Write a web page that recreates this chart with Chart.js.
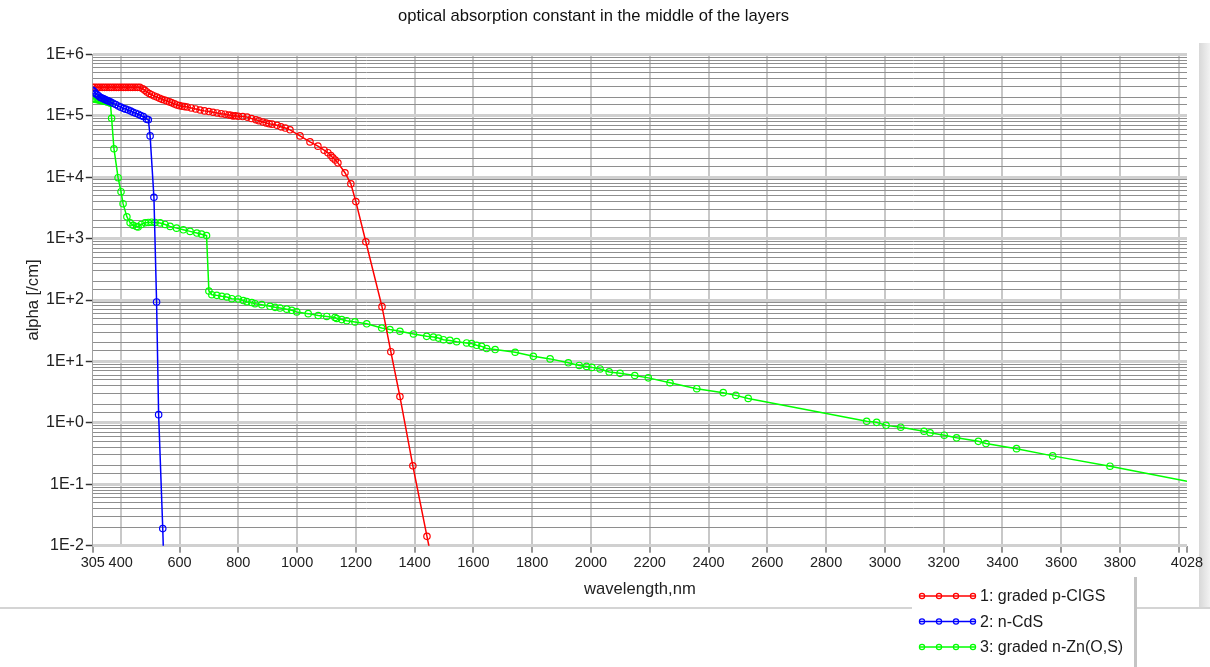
<!DOCTYPE html>
<html>
<head>
<meta charset="utf-8">
<script src="https://cdn.jsdelivr.net/npm/chart.js@4.4.0/dist/chart.umd.min.js"></script>
<style>
  html, body { margin: 0; padding: 0; background: #fff; }
  #wrap { position: relative; width: 1210px; height: 667px; }
</style>
</head>
<body>
<div id="wrap"><canvas id="chart"></canvas></div>
<script>
const chartTitle = "optical absorption constant in the middle of the layers";
const xTitle = "wavelength,nm";
const yTitle = "alpha [/cm]";
const seriesLabels = ["1: graded p-CIGS", "2: n-CdS", "3: graded n-Zn(O,S)"];
const xTicks = [305, 400, 600, 800, 1000, 1200, 1400, 1600, 1800, 2000, 2200, 2400,
  2600, 2800, 3000, 3200, 3400, 3600, 3800, 4000, 4028];

// 1: graded p-CIGS
const cigsWl = [305, 313, 321, 329, 337, 345, 353, 361, 369, 377, 385, 393, 401, 409, 417,
  425, 433, 441, 449, 457, 465, 475, 482, 489, 497, 505, 514, 523, 532, 540, 549, 557, 566,
  574, 583, 591, 600, 609, 617, 626, 640, 655, 670, 685, 700, 714, 728, 742, 755, 768, 775,
  782, 790, 800, 815, 830, 845, 860, 870, 884, 895, 905, 915, 932, 945, 960, 976, 1010, 1044,
  1071, 1092, 1105, 1115, 1122, 1130, 1139, 1163, 1183, 1200, 1234, 1289, 1319, 1350, 1394,
  1442, 1449];
const cigsAlpha = [2.9e5, 2.9e5, 2.9e5, 2.9e5, 2.9e5, 2.9e5, 2.9e5, 2.9e5, 2.9e5, 2.9e5,
  2.9e5, 2.9e5, 2.9e5, 2.9e5, 2.9e5, 2.9e5, 2.9e5, 2.9e5, 2.9e5, 2.9e5, 2.9e5, 2.75e5,
  2.6e5, 2.44e5, 2.3e5, 2.2e5, 2.1e5, 2.02e5, 1.93e5, 1.85e5, 1.8e5, 1.74e5, 1.68e5, 1.62e5,
  1.56e5, 1.5e5, 1.46e5, 1.43e5, 1.41e5, 1.39e5, 1.34e5, 1.29e5, 1.24e5, 1.2e5, 1.17e5,
  1.14e5, 1.11e5, 1.08e5, 1.06e5, 1.03e5, 1.02e5, 9.9e4, 1.0e5, 9.8e4, 9.7e4, 9.5e4, 9.0e4,
  8.6e4, 8.3e4, 7.9e4, 7.6e4, 7.4e4, 7.3e4, 7.0e4, 6.6e4, 6.3e4, 5.9e4, 4.7e4, 3.75e4,
  3.2e4, 2.75e4, 2.5e4, 2.25e4, 2.06e4, 1.9e4, 1.71e4, 1.18e4, 7.8e3, 4.0e3, 887, 78, 14.4,
  2.68, 0.2, 0.0142, 0.0097];

// 2: n-CdS
const cdsWl = [305, 310, 315, 320, 325, 330, 335, 340, 345, 350, 355, 360, 366, 374, 383,
  392, 400, 409, 417, 426, 434, 442, 451, 460, 468, 477, 488, 494, 500, 513, 522, 529, 543,
  545];
const cdsAlpha = [2.6e5, 2.45e5, 2.3e5, 2.2e5, 2.1e5, 2.0e5, 1.95e5, 1.9e5, 1.85e5, 1.8e5,
  1.76e5, 1.72e5, 1.67e5, 1.6e5, 1.52e5, 1.44e5, 1.38e5, 1.32e5, 1.28e5, 1.24e5, 1.19e5,
  1.14e5, 1.1e5, 1.06e5, 1.01e5, 9.7e4, 8.8e4, 8.6e4, 4.7e4, 4.7e3, 93, 1.36, 0.019, 0.009];

// 3: graded n-Zn(O,S)
const znosWl = [305, 310, 315, 320, 325, 330, 335, 340, 345, 350, 355, 360, 365, 369, 377,
  391, 401, 408, 421, 432, 442, 454, 459, 470, 483, 494, 505, 517, 534, 551, 568, 590, 613,
  636, 659, 675, 692, 700, 710, 727, 744, 761, 778, 800, 817, 829, 846, 857, 880, 908, 925,
  942, 965, 982, 999, 1038, 1072, 1101, 1129, 1135, 1152, 1169, 1197, 1237, 1288, 1316, 1350,
  1396, 1441, 1464, 1481, 1498, 1520, 1543, 1577, 1594, 1611, 1628, 1645, 1674, 1742, 1804,
  1861, 1923, 1960, 1985, 2003, 2031, 2062, 2099, 2149, 2195, 2269, 2360, 2450, 2493, 2535,
  2938, 2972, 3004, 3054, 3133, 3154, 3202, 3244, 3318, 3344, 3448, 3571, 3766, 4028];
const znosAlpha = [1.9e5, 1.88e5, 1.85e5, 1.83e5, 1.8e5, 1.78e5, 1.76e5, 1.74e5, 1.72e5,
  1.7e5, 1.68e5, 1.66e5, 1.6e5, 9.1e4, 2.9e4, 9.8e3, 5.8e3, 3.7e3, 2.26e3, 1.81e3, 1.65e3,
  1.57e3, 1.55e3, 1.7e3, 1.81e3, 1.83e3, 1.85e3, 1.83e3, 1.8e3, 1.7e3, 1.58e3, 1.48e3,
  1.39e3, 1.31e3, 1.23e3, 1.18e3, 1.12e3, 140, 122, 119, 115, 112, 105, 104, 98, 94, 91, 87,
  84, 79, 76, 74, 71, 68, 64, 60, 56, 54, 52, 50, 48, 46, 44, 41, 35, 33, 31, 28, 25.6, 25,
  24, 22.6, 22, 21, 20, 19.5, 18.3, 17.6, 16.2, 15.6, 14.1, 12.1, 11, 9.5, 8.6, 8.3, 8.0,
  7.55, 6.75, 6.4, 5.9, 5.4, 4.5, 3.6, 3.1, 2.8, 2.5, 1.06, 1.02, 0.91, 0.85, 0.73, 0.69,
  0.63, 0.57, 0.5, 0.46, 0.38, 0.29, 0.197, 0.112];

const seriesColors = ["#ff0000", "#0000ff", "#00ff00"];
const FONT = "'Liberation Sans', Arial, sans-serif";

function toPoints(xs, ys) {
  return xs.map((x, i) => ({ x, y: ys[i] }));
}

function isDecade(v) {
  const l = Math.log10(v);
  return Math.abs(l - Math.round(l)) < 1e-6;
}

function formatDecade(v) {
  const e = Math.round(Math.log10(v));
  return "1E" + (e >= 0 ? "+" : "-") + Math.abs(e);
}

// the last point of each curve only closes the line, no marker there
function markerRadius(ctx) {
  return ctx.dataIndex === ctx.dataset.data.length - 1 ? 0 : 3.2;
}

function makeDataset(i, xs, ys, order) {
  return {
    label: seriesLabels[i],
    data: toPoints(xs, ys),
    borderColor: seriesColors[i],
    backgroundColor: "rgba(0,0,0,0)",
    borderWidth: 1.5,
    pointRadius: markerRadius,
    pointHoverRadius: markerRadius,
    pointBorderWidth: 1.2,
    pointBorderColor: seriesColors[i],
    pointBackgroundColor: "rgba(0,0,0,0)",
    tension: 0,
    order
  };
}

// window frame, bottom rule and legend box in the corner
const framePlugin = {
  id: "frame",
  beforeDraw(chart) {
    const { ctx } = chart;
    ctx.save();
    ctx.fillStyle = "#fff";
    ctx.fillRect(0, 0, chart.width, chart.height);
    const grad = ctx.createLinearGradient(1199, 0, 1210, 0);
    grad.addColorStop(0, "#d8d8d8");
    grad.addColorStop(1, "#f2f2f2");
    ctx.fillStyle = grad;
    ctx.fillRect(1199, 43, 11, 565);
    ctx.fillStyle = "#d4d4d4";
    ctx.fillRect(0, 607, 1210, 2);
    ctx.restore();
  },
  afterDraw(chart) {
    const { ctx } = chart;
    const ds = chart.data.datasets;
    ctx.save();
    ctx.fillStyle = "#fff";
    ctx.fillRect(912, 577, 223, 90);
    ctx.fillStyle = "#c4c4c4";
    ctx.fillRect(1134, 577, 3, 90);
    ds.forEach((d, i) => {
      const y = 596 + i * 25.5;
      ctx.strokeStyle = d.borderColor;
      ctx.lineWidth = 1.5;
      ctx.beginPath();
      ctx.moveTo(920, y);
      ctx.lineTo(975, y);
      ctx.stroke();
      ctx.lineWidth = 1.2;
      [922, 939, 956, 973].forEach((cx) => {
        ctx.beginPath();
        ctx.arc(cx, y, 2.6, 0, Math.PI * 2);
        ctx.stroke();
      });
      ctx.fillStyle = "#1a1a1a";
      ctx.font = "16px " + FONT;
      ctx.textBaseline = "middle";
      ctx.textAlign = "left";
      ctx.fillText(d.label, 980, y + 1);
    });
    ctx.restore();
  }
};

new Chart(document.getElementById("chart"), {
  type: "line",
  data: {
    datasets: [
      makeDataset(0, cigsWl, cigsAlpha, 1),
      makeDataset(1, cdsWl, cdsAlpha, 0),
      makeDataset(2, znosWl, znosAlpha, 2)
    ]
  },
  options: {
    responsive: true,
    maintainAspectRatio: false,
    animation: false,
    events: [],
    layout: {
      padding: { left: 0, right: 23, top: 0, bottom: 51.3 }
    },
    plugins: {
      legend: { display: false },
      tooltip: { enabled: false },
      title: {
        display: true,
        text: chartTitle,
        color: "#111",
        font: { family: FONT, size: 16.6, weight: "normal" },
        padding: { top: 6, bottom: 28.4 }
      }
    },
    scales: {
      x: {
        type: "linear",
        min: 305,
        max: 4028,
        afterBuildTicks(scale) {
          scale.ticks = xTicks.map((value) => ({ value }));
        },
        afterFit(scale) {
          scale.height = 70;
        },
        border: { display: false },
        grid: {
          color(ctx) {
            const v = ctx.tick && ctx.tick.value;
            return v === 305 || v === 4028 ? "rgba(0,0,0,0)" : "#c8c8c8";
          },
          lineWidth: 2,
          tickColor(ctx) {
            const v = ctx.tick && ctx.tick.value;
            return v === 400 ? "rgba(0,0,0,0)" : "#333";
          },
          tickLength: 7,
          tickWidth: 1
        },
        ticks: {
          autoSkip: false,
          maxRotation: 0,
          padding: 2,
          color: "#222",
          font: { family: FONT, size: 14.5 },
          callback(value) {
            return value === 4000 ? "" : String(value);
          }
        },
        title: {
          display: true,
          text: xTitle,
          color: "#222",
          font: { family: FONT, size: 16.6 },
          padding: { top: 0, bottom: 16 }
        }
      },
      y: {
        type: "logarithmic",
        min: 0.01,
        max: 1e6,
        afterFit(scale) {
          scale.width = 92.8;
        },
        border: { display: true, color: "#a0a0a0", width: 1 },
        grid: {
          color(ctx) {
            const v = ctx.tick && ctx.tick.value;
            return v && isDecade(v) ? "#d0d0d0" : "#8e8e8e";
          },
          lineWidth(ctx) {
            const v = ctx.tick && ctx.tick.value;
            return v && isDecade(v) ? 3 : 1;
          },
          tickColor(ctx) {
            const v = ctx.tick && ctx.tick.value;
            return v && isDecade(v) ? "#333" : "rgba(0,0,0,0)";
          },
          tickLength: 7,
          tickWidth: 1.5
        },
        ticks: {
          autoSkip: false,
          padding: 2,
          color: "#222",
          font: { family: FONT, size: 16 },
          callback(value) {
            return isDecade(value) ? formatDecade(value) : "";
          }
        },
        title: {
          display: true,
          text: yTitle,
          color: "#222",
          font: { family: FONT, size: 16.6 },
          padding: { top: 23 }
        }
      }
    }
  },
  plugins: [framePlugin]
});
</script>
</body>
</html>
